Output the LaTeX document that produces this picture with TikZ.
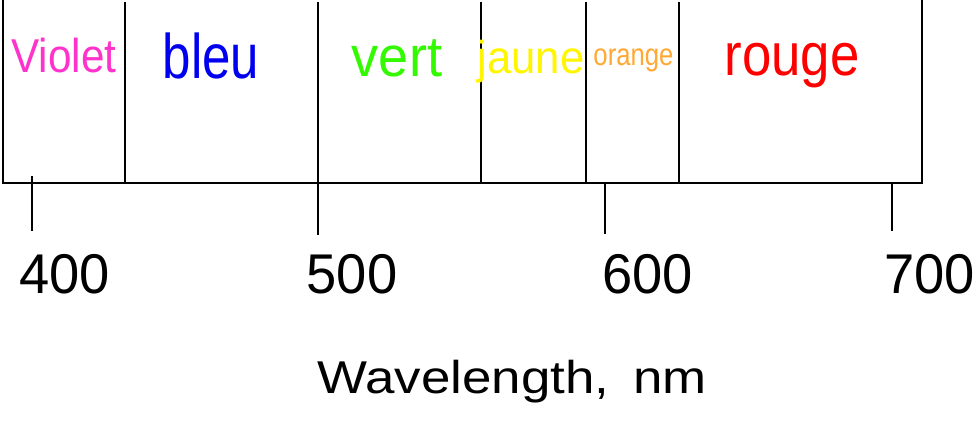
\documentclass[tikz,border=0pt]{standalone}
\usepackage{graphicx}
\usepackage{fontspec}
\setmainfont{Liberation Sans}
\usetikzlibrary{positioning}

\definecolor{violetc}{RGB}{255,51,204}
\definecolor{bleuc}{RGB}{0,0,240}
\definecolor{vertc}{RGB}{51,250,0}
\definecolor{jaunec}{RGB}{255,245,0}
\definecolor{orangec}{RGB}{255,168,51}
\definecolor{rougec}{RGB}{255,0,0}

\newcommand{\narrow}[2]{\scalebox{#1}[1]{#2}}

\begin{document}
\begin{tikzpicture}[x=1pt, y=-1pt, line width=2.9pt,
  band/.style={inner sep=0pt, anchor=base},
  tick/.style={line width=2.9pt}]
  \useasboundingbox (0,0) rectangle (976,420);

  % frame and band limits
  \draw[line join=miter] (3,0) -- (3,183) -- (922,183) -- (922,0);
  \draw (125,2) -- (125,183);
  \draw (318,2) -- (318,235);
  \draw (481,2) -- (481,183);
  \draw (586,2) -- (586,183);
  \draw (679,2) -- (679,183);

  % scale ticks
  \draw[tick] (32,176) -- (32,231);
  \draw[tick] (605,183) -- (605,234);
  \draw[tick] (892,183) -- (892,231);

  % colour names
  \node[band, text=violetc, font=\fontsize{47.5}{50}\selectfont] (violet) at (64,72) {\narrow{0.89}{Violet}};
  \node[band, text=bleuc, font=\fontsize{63}{66}\selectfont] (bleu) at (211,78) {\narrow{0.81}{bleu}};
  \node[band, text=vertc, font=\fontsize{57}{60}\selectfont] (vert) at (397,77) {\narrow{0.95}{vert}};
  \node[band, text=jaunec, font=\fontsize{46}{50}\selectfont] (jaune) at (531,73) {\narrow{0.95}{jaune}};
  \node[band, text=orangec, font=\fontsize{31}{34}\selectfont] (orange) at (633.5,66) {\narrow{0.83}{orange}};
  \node[band, text=rougec, font=\fontsize{60}{64}\selectfont] (rouge) at (792,75) {\narrow{0.88}{rouge}};

  % numbers
  \foreach \xx/\num in {64.5/400, 352/500, 647.5/600, 929.5/700}
    \node[band, font=\fontsize{56}{60}\selectfont] (n\num) at (\xx,293) {\narrow{0.97}{\num}};

  \node[band, font=\fontsize{46}{50}\selectfont] (wl) at (512,393) {\narrow{1.15}{Wavelength,\hspace{8pt} nm}};
\end{tikzpicture}
\end{document}
